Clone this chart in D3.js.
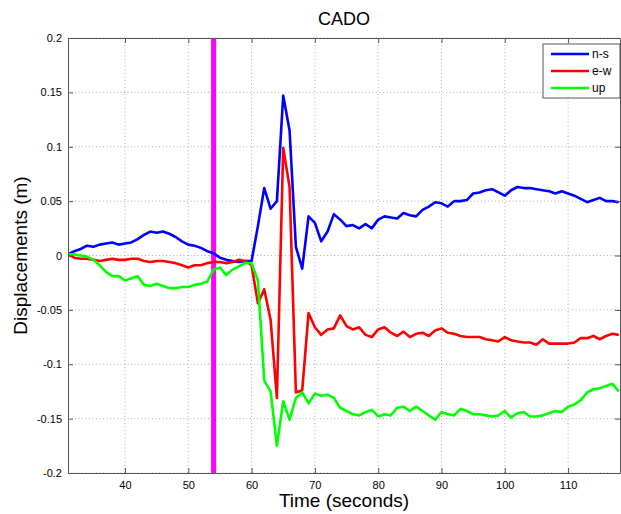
<!DOCTYPE html>
<html>
<head>
<meta charset="utf-8">
<script src="https://cdn.jsdelivr.net/npm/d3@7"></script>
<style>
  body { margin: 0; background: #fff; }
  text { font-family: "Liberation Sans", Arial, sans-serif; }
</style>
</head>
<body>
<svg id="canvas" width="621" height="514"></svg>
<script>
// Sample clock (1 s steps)
const times = d3.range(31, 119);

const ns = [0.001,0.004,0.006,0.009,0.008,0.010,0.011,0.012,0.010,0.011,
  0.012,0.015,0.019,0.022,0.021,0.022,0.020,0.017,0.013,0.010,
  0.009,0.007,0.004,0.002,-0.002,-0.004,-0.005,-0.006,-0.005,-0.005,
  0.027,0.062,0.043,0.050,0.147,0.115,0.008,-0.012,0.036,0.030,
  0.013,0.022,0.038,0.033,0.027,0.028,0.025,0.029,0.025,0.033,
  0.036,0.035,0.034,0.039,0.037,0.036,0.042,0.045,0.049,0.048,
  0.045,0.050,0.050,0.051,0.057,0.058,0.060,0.061,0.058,0.055,
  0.060,0.063,0.062,0.062,0.061,0.060,0.059,0.057,0.059,0.057,
  0.055,0.052,0.049,0.051,0.053,0.050,0.050,0.049];

const ew = [0.001,-0.002,-0.003,-0.003,-0.004,-0.005,-0.004,-0.003,-0.004,-0.004,
  -0.003,-0.003,-0.005,-0.006,-0.005,-0.005,-0.006,-0.007,-0.009,-0.011,
  -0.009,-0.009,-0.007,-0.006,-0.006,-0.007,-0.006,-0.004,-0.005,-0.009,
  -0.044,-0.031,-0.059,-0.131,0.099,0.063,-0.126,-0.124,-0.053,-0.066,
  -0.073,-0.068,-0.067,-0.055,-0.065,-0.068,-0.066,-0.073,-0.075,-0.068,
  -0.066,-0.071,-0.074,-0.070,-0.075,-0.072,-0.071,-0.074,-0.069,-0.067,
  -0.071,-0.072,-0.074,-0.075,-0.075,-0.075,-0.077,-0.078,-0.079,-0.075,
  -0.078,-0.079,-0.080,-0.080,-0.082,-0.077,-0.081,-0.081,-0.081,-0.081,
  -0.080,-0.076,-0.076,-0.074,-0.077,-0.074,-0.072,-0.073];

const up = [0.001,0.001,0.000,-0.001,-0.004,-0.009,-0.015,-0.019,-0.019,-0.023,
  -0.021,-0.019,-0.027,-0.028,-0.026,-0.028,-0.030,-0.030,-0.029,-0.029,
  -0.027,-0.026,-0.024,-0.013,-0.011,-0.018,-0.013,-0.010,-0.007,-0.007,
  -0.023,-0.115,-0.125,-0.175,-0.134,-0.151,-0.131,-0.126,-0.136,-0.127,
  -0.129,-0.128,-0.131,-0.140,-0.143,-0.146,-0.147,-0.144,-0.142,-0.148,
  -0.146,-0.147,-0.140,-0.139,-0.143,-0.139,-0.143,-0.147,-0.151,-0.144,
  -0.146,-0.147,-0.141,-0.143,-0.146,-0.146,-0.147,-0.148,-0.147,-0.143,
  -0.149,-0.145,-0.144,-0.148,-0.148,-0.147,-0.145,-0.143,-0.144,-0.139,
  -0.137,-0.133,-0.126,-0.123,-0.122,-0.120,-0.118,-0.125];

const seriesNames = ["n-s", "e-w", "up"];
const seriesColors = ["#0000ff", "#ff0000", "#00ff00"];
const xTicks = [40, 50, 60, 70, 80, 90, 100, 110];
const yTicks = [0.2, 0.15, 0.1, 0.05, 0, -0.05, -0.1, -0.15, -0.2];
const yTickLabels = ["0.2", "0.15", "0.1", "0.05", "0", "-0.05", "-0.1", "-0.15", "-0.2"];
const eventTime = 54;

const svg = d3.select("#canvas");
const margin = {top: 38, right: 1, bottom: 41, left: 68};
const W = 621, H = 514;
const iw = W - margin.left - margin.right;
const ih = H - margin.top - margin.bottom;

const x = d3.scaleLinear().domain([31, 118.2]).range([0, iw]);
const y = d3.scaleLinear().domain([-0.2, 0.2]).range([ih, 0]);

const g = svg.append("g").attr("transform", `translate(${margin.left},${margin.top})`);
g.append("clipPath").attr("id", "plotclip")
  .append("rect").attr("width", iw).attr("height", ih);

// Grid
g.append("g").selectAll("line").data(xTicks).join("line")
  .attr("x1", d => x(d)).attr("x2", d => x(d)).attr("y1", 0).attr("y2", ih)
  .attr("stroke", "#9a9a9a").attr("stroke-width", 0.8).attr("stroke-dasharray", "1,2.5");
g.append("g").selectAll("line").data(yTicks).join("line")
  .attr("x1", 0).attr("x2", iw).attr("y1", d => y(d)).attr("y2", d => y(d))
  .attr("stroke", "#9a9a9a").attr("stroke-width", 0.8).attr("stroke-dasharray", "1,2.5");

// Event marker
g.append("line")
  .attr("x1", x(eventTime)).attr("x2", x(eventTime)).attr("y1", 0).attr("y2", ih)
  .attr("stroke", "#ff00ff").attr("stroke-width", 5);

// Series lines
const line = d3.line().x((d, i) => x(times[i])).y(d => y(d));
const plot = g.append("g").attr("clip-path", "url(#plotclip)");
[ns, ew, up].forEach((s, k) => {
  plot.append("path").datum(s)
    .attr("fill", "none")
    .attr("stroke", seriesColors[k])
    .attr("stroke-width", 2.6)
    .attr("stroke-linejoin", "round")
    .attr("d", line);
});

// Axes (box with inward ticks)
const axisColor = "#555";
const xAxis = d3.axisBottom(x).tickValues(xTicks).tickSizeInner(-5).tickSizeOuter(0).tickPadding(8);
const yAxis = d3.axisLeft(y).tickValues(yTicks).tickFormat((d, i) => yTickLabels[i]).tickSizeInner(-5).tickSizeOuter(0).tickPadding(6);

g.append("g").attr("transform", `translate(0,${ih})`).call(xAxis);
g.append("g").call(yAxis);
g.append("g").call(d3.axisTop(x).tickValues(xTicks).tickSizeInner(-5).tickSizeOuter(0).tickFormat(""));
g.append("g").attr("transform", `translate(${iw},0)`)
  .call(d3.axisRight(y).tickValues(yTicks).tickSizeInner(-5).tickSizeOuter(0).tickFormat(""));

g.selectAll(".domain").attr("stroke", axisColor);
g.selectAll(".tick line").attr("stroke", axisColor);
g.selectAll(".tick text").attr("fill", "#000").style("font-size", "11px")
  .style("font-family", "'Liberation Sans', Arial, sans-serif");

// Legend
const lg = g.append("g").attr("transform", `translate(${iw - 77},6)`);
lg.append("rect").attr("width", 77).attr("height", 54)
  .attr("fill", "#fff").attr("stroke", axisColor).attr("stroke-width", 1);
seriesNames.forEach((name, k) => {
  const yy = 10 + k * 17;
  lg.append("line").attr("x1", 8).attr("x2", 46).attr("y1", yy).attr("y2", yy)
    .attr("stroke", seriesColors[k]).attr("stroke-width", 2.6);
  lg.append("text").attr("x", 49).attr("y", yy + 4).text(name)
    .style("font-size", "12px");
});

// Title and labels
svg.append("text").attr("x", margin.left + iw / 2).attr("y", 25)
  .attr("text-anchor", "middle").style("font-size", "18px").text("CADO");
svg.append("text").attr("x", margin.left + iw / 2).attr("y", 507)
  .attr("text-anchor", "middle").style("font-size", "19px").text("Time (seconds)");
svg.append("text").attr("transform", `translate(27,${margin.top + ih / 2}) rotate(-90)`)
  .attr("text-anchor", "middle").style("font-size", "19px").text("Displacements (m)");
</script>
</body>
</html>
